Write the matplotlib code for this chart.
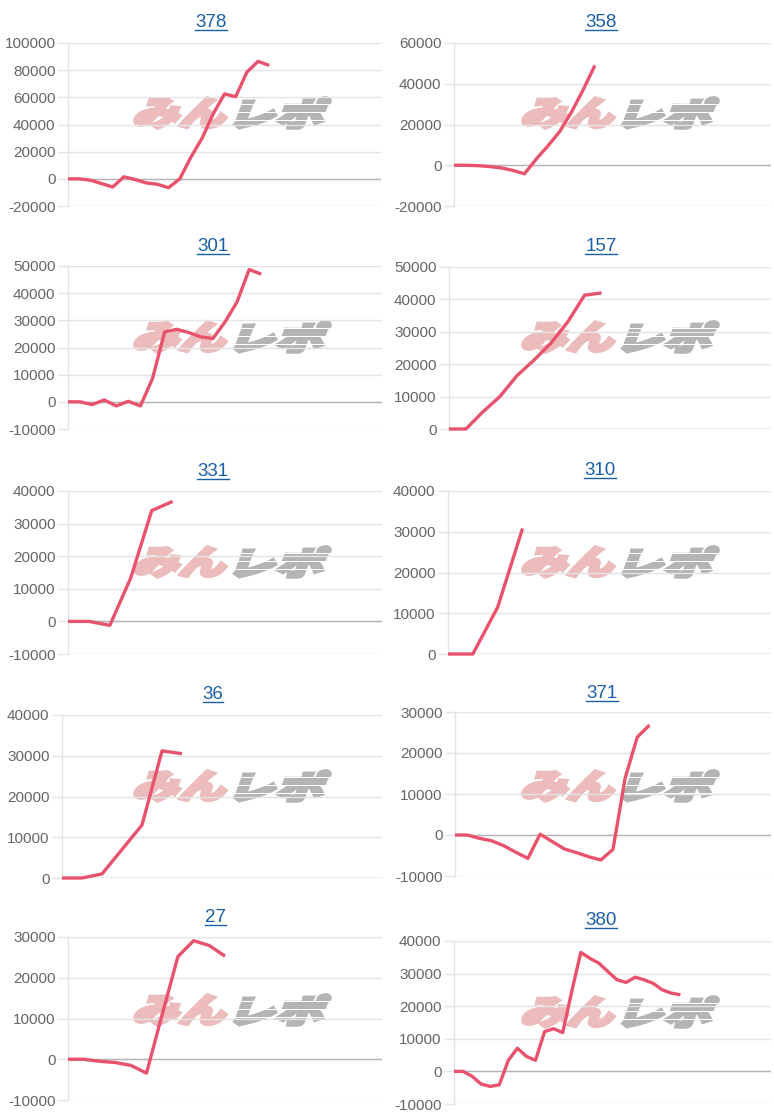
import matplotlib
matplotlib.use('Agg')
import matplotlib.pyplot as plt
from matplotlib.textpath import TextPath
from matplotlib.font_manager import FontProperties
from matplotlib.patches import PathPatch, Rectangle
from matplotlib.transforms import Affine2D
from matplotlib.lines import Line2D

plt.rcParams['font.family'] = ['Liberation Sans', 'DejaVu Sans']

# ---------------- data ----------------
titles = ['378', '358', '301', '157', '331', '310', '36', '371', '27', '380']
n_categories = [29, 28, 27, 20, 16, 14, 17, 27, 21, 36]

s378 = [0, 0, -1000, -3500, -6000, 1500, -500, -3000, -4000, -6500, 0,
        16000, 30000, 48000, 62500, 60500, 78500, 86500, 83500]
s358 = [0, 0, -200, -600, -1300, -2500, -4200, 3000, 9500, 16500, 26000,
        37000, 49000]
s301 = [0, 0, -1000, 700, -1500, 200, -1500, 8600, 25700, 26700, 25500,
        23900, 23300, 29400, 36800, 48700, 47000]
s157 = [0, 0, 5300, 10000, 16400, 21200, 26400, 33000, 41300, 42000]
s331 = [0, 0, -1200, 13400, 34000, 36800]
s310 = [0, 0, 11500, 30800]
s36 = [0, 0, 1000, 7000, 13000, 31200, 30500]
s371 = [0, 0, -800, -1400, -2600, -4200, -5700, 200, -1600, -3400, -4300,
        -5300, -6100, -3500, 13900, 23900, 26800]
s27 = [0, 0, -500, -800, -1500, -3400, 11000, 25200, 29100, 27900, 25300]
s380 = [0, 0, -1500, -3900, -4600, -4100, 3400, 7100, 4600, 3400, 12200,
        13100, 11900, 24500, 36500, 34700, 33200, 30600, 28100, 27300,
        28900, 28100, 27000, 25000, 24000, 23500]
series = [s378, s358, s301, s157, s331, s310, s36, s371, s27, s380]

yticks378 = [-20000, 0, 20000, 40000, 60000, 80000, 100000]
yticks358 = [-20000, 0, 20000, 40000, 60000]
yticks301 = [-10000, 0, 10000, 20000, 30000, 40000, 50000]
yticks157 = [0, 10000, 20000, 30000, 40000, 50000]
yticks331 = [-10000, 0, 10000, 20000, 30000, 40000]
yticks310 = [0, 10000, 20000, 30000, 40000]
yticks36 = [0, 10000, 20000, 30000, 40000]
yticks371 = [-10000, 0, 10000, 20000, 30000]
yticks27 = [-10000, 0, 10000, 20000, 30000]
yticks380 = [-10000, 0, 10000, 20000, 30000, 40000]
yticks_all = [yticks378, yticks358, yticks301, yticks157, yticks331,
              yticks310, yticks36, yticks371, yticks27, yticks380]

# ---------------- layout (pixels: left, top, right, bottom) ----------------
W, H = 774, 1120
boxes = [
    (68, 43, 381, 206), (454, 43, 771, 206),
    (68, 266, 382, 429), (449, 267, 771, 429),
    (68, 491, 382, 654), (448, 491, 771, 654),
    (62, 715, 382, 878), (455, 712, 771, 876),
    (68, 937, 382, 1100), (454, 941, 771, 1104),
]
title_pos = [(211, 27), (601, 27), (213, 251), (601, 251), (213, 476),
             (600, 475), (213, 699), (602, 698), (215, 922), (601, 925)]
wm_centers = [(232, 113), (620, 113), (232, 337), (620, 337), (232, 562),
              (620, 562), (232, 786), (620, 786), (232, 1010), (620, 1012)]

LINE = '#e9526c'
GRID = '#e4e4e4'
ZERO = '#b5b5b5'
TICKC = '#666666'
TITLEC = '#1b5fa7'

fig = plt.figure(figsize=(W / 100, H / 100), dpi=100)
fp = FontProperties(family='Noto Sans CJK JP', weight='heavy')


def watermark(ax, cx, cy):
    parts = [('みん', '#ecbcbd', -97, -6), ('レポ', '#b4b4b4', 3, 98)]
    hgt = 30
    for s, col, x0, x1 in parts:
        tp = TextPath((0, 0), s, size=1, prop=fp)
        p = Affine2D().skew_deg(14, 0).transform_path(tp)
        ext = p.get_extents()
        tr = (Affine2D().translate(-ext.x0, -ext.y0)
              .scale((x1 - x0) / ext.width, hgt / ext.height)
              .translate(cx + x0, H - cy - hgt / 2).scale(1 / 100.0)
              + fig.dpi_scale_trans)
        patch = PathPatch(p, transform=tr, facecolor=col, edgecolor=col,
                          linewidth=2.6, joinstyle='miter',
                          zorder=0.3, clip_on=False)
        ax.add_artist(patch)
    # speed-line gaps across the gray part
    for yy in (-8, 0, 8):
        r = Rectangle(((cx + 1) / 100.0, (H - cy + yy) / 100.0), 1.0, 0.012,
                      transform=fig.dpi_scale_trans, facecolor='white',
                      edgecolor='none', zorder=0.35, clip_on=False)
        ax.add_artist(r)


title_texts = []
for i in range(10):
    l, t, r, b = boxes[i]
    ax = fig.add_axes([l / W, 1 - b / H, (r - l) / W, (b - t) / H])
    vals = series[i]
    ticks = yticks_all[i]
    ax.plot(range(len(vals)), vals, color=LINE, lw=2.4,
            solid_joinstyle='round', solid_capstyle='butt', zorder=3,
            clip_on=False)
    ax.set_xlim(0, n_categories[i] - 1)
    ax.set_ylim(ticks[0], ticks[-1])
    ax.set_yticks(ticks)
    ax.set_yticklabels([str(v) for v in ticks])
    ax.set_xticks([])
    for side in ('top', 'right', 'bottom'):
        ax.spines[side].set_visible(False)
    ax.spines['left'].set_color(GRID)
    ax.spines['left'].set_linewidth(1)
    ax.set_axisbelow(True)
    ax.yaxis.grid(True, color=GRID, lw=1, zorder=0.5)
    ax.axhline(0, color=ZERO, lw=1, zorder=0.6)
    ax.tick_params(axis='y', length=7, width=1, color=GRID,
                   labelcolor=TICKC, labelsize=11, pad=2)
    ax.patch.set_alpha(0)
    watermark(ax, *wm_centers[i])
    tx, ty = title_pos[i]
    txt = fig.text(tx / W, 1 - ty / H, titles[i], ha='center', va='baseline',
                   color=TITLEC, fontsize=13.5)
    title_texts.append((txt, ty))

fig.canvas.draw()
renderer = fig.canvas.get_renderer()
for txt, ty in title_texts:
    bb = txt.get_window_extent(renderer)
    y = H - ty - 2.5
    fig.add_artist(Line2D([bb.x0 / 100, bb.x1 / 100], [y / 100, y / 100],
                          transform=fig.dpi_scale_trans, color=TITLEC,
                          lw=1.0))

fig.savefig('out.png', dpi=100)
